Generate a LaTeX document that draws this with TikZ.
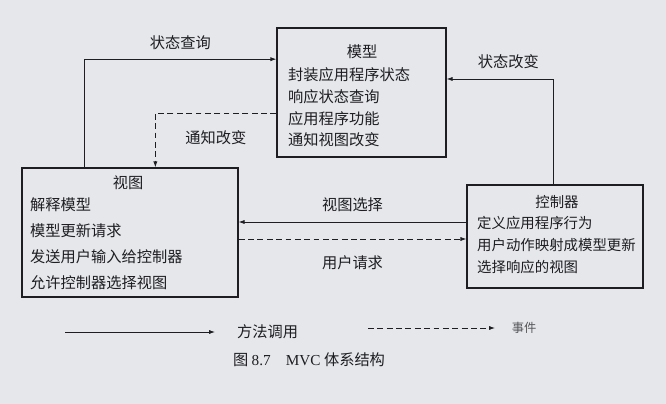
\documentclass[tikz,border=0pt]{standalone}
\usepackage{fontspec}
\setmainfont{Liberation Serif}
\newfontfamily\cjk{Noto Sans CJK SC}
\usetikzlibrary{arrows.meta,positioning}
\definecolor{paper}{RGB}{229,231,234}
\definecolor{ink}{RGB}{30,30,34}
\begin{document}
\begin{tikzpicture}[x=0.03cm, y=-0.03cm, font=\cjk\fontsize{13}{18.4}\selectfont, text=ink,
    box/.style = {draw=ink, line width=1.1pt, rectangle, inner sep=0pt},
    body/.style = {align=left, inner sep=0pt, anchor=west},
    lbl/.style = {inner sep=0pt},
    call/.style = {draw=ink, line width=0.7pt, -{Latex[length=5pt,width=3.5pt]}},
    event/.style = {call, dash pattern=on 5pt off 3pt}]
    \fill[paper] (0,0) rectangle (666,404);
    % boxes
    \node[box, minimum width=5.07cm, minimum height=3.87cm] (model) at (361.5,92.5) {};
    \node[box, minimum width=6.48cm, minimum height=3.87cm] (view) at (130,232.5) {};
    \node[box, minimum width=5.28cm, minimum height=3.09cm] (ctrl) at (555,236.5) {};
    \node[lbl] (mtitle) at (362,52) {模型};
    \node[body] (mtext) at (288,107.5) {封装应用程序状态\\响应状态查询\\应用程序功能\\通知视图改变};
    \node[lbl] (vtitle) at (128,183) {视图};
    \node[body, font=\cjk\fontsize{13}{22.3}\selectfont] (vtext) at (30,243.5) {解释模型\\模型更新请求\\发送用户输入给控制器\\允许控制器选择视图};
    \node[lbl, font=\cjk\fontsize{12.3}{18.6}\selectfont] (ctitle) at (557,202) {控制器};
    \node[body, font=\cjk\fontsize{12.3}{18.6}\selectfont] (ctext) at (477,245) {定义应用程序行为\\用户动作映射成模型更新\\选择响应的视图};
    % connectors
    \draw[call] ([xshift=1.89cm]view.north west) |- node[lbl, pos=.75, above=7.5pt] {状态查询} ([yshift=1cm]model.west);
    \draw[event] ([yshift=-0.615cm]model.west) -| node[lbl, pos=.25, below=14.5pt] {通知改变} ([xshift=4.02cm]view.north west);
    \draw[call] ([xshift=-0.06cm]ctrl.north) |- node[lbl, pos=.71, above=8.5pt] {状态改变} ([yshift=0.405cm]model.east);
    \coordinate (sel) at ([yshift=0.435cm]ctrl.west);
    \coordinate (req) at ([yshift=-0.195cm]view.east);
    \draw[call] (sel) to node[lbl, above=8.5pt] {视图选择} (sel -| view.east);
    \draw[event] (req) to node[lbl, below=13.7pt] {用户请求} (req -| ctrl.west);
    % legend
    \coordinate (m0) at (65,332);
    \coordinate (m1) at (215,332);
    \node[lbl, right=0.66cm of m1] (mcall) {方法调用};
    \draw[call] (m0) -- (m1);
    \coordinate (e0) at (368,328);
    \coordinate (e1) at (495,328);
    \node[lbl, right=0.5cm of e1, font=\cjk\fontsize{10.5}{12}\selectfont, text=ink!75] (evt) {事件};
    \draw[event] (e0) -- (e1);
    \node[lbl] (cap) at (309,360) {图 {\rmfamily 8.7}\quad{\rmfamily MVC} 体系结构};
\end{tikzpicture}
\end{document}
